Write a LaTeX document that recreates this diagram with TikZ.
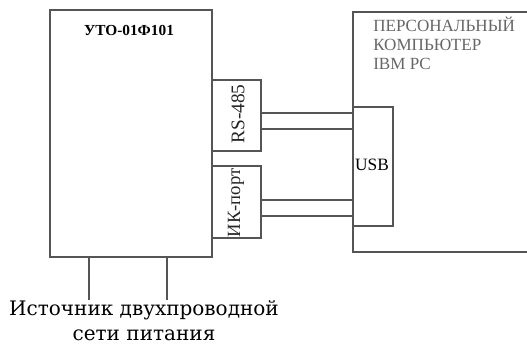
\documentclass[tikz,border=0pt]{standalone}
\usepackage{fontspec}
\setmainfont{Liberation Serif}
\newfontfamily\capfont{DejaVu Serif}
\usetikzlibrary{calc}
\definecolor{linecol}{HTML}{555555}
\definecolor{pctext}{HTML}{666666}

\begin{document}
\begin{tikzpicture}[
  x=0.75pt, y=-0.75pt,
  unitbox/.style={draw=linecol, line width=0.9pt, inner sep=0pt},
  portlabel/.style={rotate=90, text=black!85},
  wire/.style={draw=linecol, line width=0.9pt}
]
\useasboundingbox (0,0) rectangle (527,348);
\clip (0,0) rectangle (527,348);

% device
\node[unitbox, minimum width=121.5pt, minimum height=185.25pt] (uto) at (131,133.5) {};
\node[font=\bfseries\fontsize{11.5}{13}\selectfont] (utolbl) at (129,30) {УТО-01Ф101};

% ports
\node[unitbox, minimum width=36.75pt, minimum height=53.25pt] (rs) at (236.5,115.5) {};
\node[portlabel, font=\fontsize{14.5}{16}\selectfont] (rslbl) at (238,114) {RS-485};
\node[unitbox, minimum width=36.75pt, minimum height=54pt] (ik) at (236.5,202) {};
\node[portlabel, font=\fontsize{14}{16}\selectfont] (iklbl) at (236,203) {ИК-порт};

% computer
\node[unitbox, minimum width=185.25pt, minimum height=180pt] (pc) at (476.5,132) {};
\node[anchor=north west, align=left, text=pctext, inner sep=0pt,
      font=\fontsize{12.8}{14}\selectfont] (pclbl) at (373,17)
      {ПЕРСОНАЛЬНЫЙ\\КОМПЬЮТЕР\\IBM PC};
\node[unitbox, fill=white, minimum width=30pt, minimum height=89.25pt] (usb) at (373,166.5) {};
\node[font=\fontsize{13}{15}\selectfont] (usblbl) at (372,165) {USB};

% links
\foreach \yy in {113,129} \draw[wire] (rs.east |- 0,\yy) -- (usb.west |- 0,\yy);
\foreach \yy in {200,216} \draw[wire] (ik.east |- 0,\yy) -- (usb.west |- 0,\yy);

% supply
\node[align=center, inner sep=0pt, font=\capfont\fontsize{15}{19}\selectfont,
      anchor=north] (src) at (144,300)
      {Источник двухпроводной\\сети питания};
\draw[wire] (uto.south -| 89,0) -- (src.north -| 89,0);
\draw[wire] (uto.south -| 167,0) -- (src.north -| 167,0);
\end{tikzpicture}
\end{document}
